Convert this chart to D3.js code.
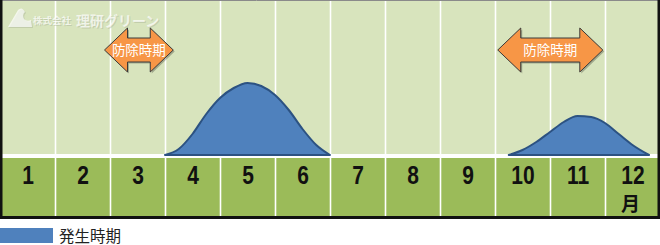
<!DOCTYPE html>
<html>
<head>
<meta charset="utf-8">
<script src="https://cdn.jsdelivr.net/npm/d3@7"></script>
<style>
  body { margin: 0; background: #fff; }
  svg { display: block; }
</style>
</head>
<body>
<div id="svg-wrapper"></div>
<script>
// month labels along the bottom band
const months = ["1", "2", "3", "4", "5", "6", "7", "8", "9", "10", "11", "12"];

// occurrence curves: [month position, level], month position 0 = start of Jan
const springBump = [
  [3.0, 0], [3.25, 6], [3.5, 21], [3.75, 41], [4.0, 57], [4.25, 67], [4.5, 72],
  [4.75, 69], [5.0, 60], [5.25, 45], [5.5, 26], [5.75, 10], [6.0, 0],
];
const autumnBump = [
  [9.25, 0], [9.5, 5], [9.75, 13], [10.0, 23], [10.25, 33], [10.5, 39],
  [10.75, 38], [11.0, 32], [11.25, 21], [11.5, 10], [11.8, 0],
];

// control periods (arrow tips, in month positions)
const controlPeriods = [[1.9, 3.15], [9.05, 10.96]];
const controlLabel = "防除時期";
const legendLabel = "発生時期";

const width = 660, height = 245;
const svg = d3.select("#svg-wrapper").append("svg")
  .attr("width", width).attr("height", height);

const x = d3.scaleLinear().domain([0, 12]).range([0, 660]);
const y = d3.scaleLinear().domain([0, 100]).range([155, 55]);

const bandTop = 157, bandBottom = 217;

// backgrounds
svg.append("rect").attr("x", 0).attr("y", 0).attr("width", 660).attr("height", 154)
  .attr("fill", "#d8e4bd");
svg.append("rect").attr("x", 0).attr("y", 154).attr("width", 660).attr("height", 4)
  .attr("fill", "#ffffff");
svg.append("rect").attr("x", 0).attr("y", bandTop + 1).attr("width", 660)
  .attr("height", bandBottom - bandTop - 1).attr("fill", "#9bbb59");

// column grid lines
const grid = d3.axisBottom(x).tickValues(d3.range(1, 12)).tickSize(bandBottom).tickFormat("");
svg.append("g").call(grid)
  .call((g) => g.select(".domain").remove())
  .selectAll("line").attr("stroke", "#ffffff").attr("stroke-width", 1.6);

// watermark logo (soft shadow + white)
[["#9aa58a", 0.35, 1], ["#ffffff", 0.7, 0]].forEach(([col, op, off]) => {
  const wm = svg.append("g").attr("opacity", op).attr("transform", `translate(${off},${off})`);
  wm.append("path")
    .attr("d", "M8,27 L18,10 Q22,6 25,12 Q22,14 24,19 Q27,22 31,20 L32,27 Z")
    .attr("fill", col);
  wm.append("text").attr("x", 33).attr("y", 23.5).text("株式会社")
    .attr("font-family", "Noto Sans CJK JP").attr("font-size", 9.5).attr("font-weight", "bold")
    .attr("fill", col);
  wm.append("text").attr("x", 76).attr("y", 25.5).text("理研グリーン")
    .attr("font-family", "Noto Sans CJK JP").attr("font-size", 14).attr("font-weight", "bold")
    .attr("fill", col);
});

// occurrence areas
const area = d3.area()
  .x((d) => x(d[0]))
  .y0(y(0))
  .y1((d) => y(d[1]))
  .curve(d3.curveMonotoneX);

svg.selectAll(".bump")
  .data([springBump, autumnBump])
  .enter()
  .append("path")
  .attr("class", "bump")
  .attr("d", area)
  .attr("fill", "#4f81bd")
  .attr("stroke", "#2c5282")
  .attr("stroke-width", 2)
  .attr("stroke-linejoin", "round");

// control period arrows
const arrowY = 50, headLen = 23, headHalf = 22, shaftHalf = 12;
function arrowPath(d) {
  const a = x(d[0]), b = x(d[1]);
  return `M${a},${arrowY} L${a + headLen},${arrowY - headHalf} L${a + headLen},${arrowY - shaftHalf}
    L${b - headLen},${arrowY - shaftHalf} L${b - headLen},${arrowY - headHalf} L${b},${arrowY}
    L${b - headLen},${arrowY + headHalf} L${b - headLen},${arrowY + shaftHalf}
    L${a + headLen},${arrowY + shaftHalf} L${a + headLen},${arrowY + headHalf} Z`;
}
const arrows = svg.selectAll(".arrow").data(controlPeriods).enter().append("g").attr("class", "arrow");
arrows.append("path")
  .attr("d", arrowPath)
  .attr("transform", "translate(1.5,1.5)")
  .attr("fill", "rgba(0,0,0,0.25)");
arrows.append("path")
  .attr("d", arrowPath)
  .attr("fill", "#f79646")
  .attr("stroke", "#3a3a3a")
  .attr("stroke-width", 1);
arrows.append("text")
  .attr("x", (d) => (x(d[0]) + x(d[1])) / 2)
  .attr("y", arrowY + 5)
  .attr("text-anchor", "middle")
  .attr("font-family", "Noto Sans CJK JP")
  .attr("font-size", 13.5)
  .attr("fill", "#ffffff")
  .text(controlLabel);

// month labels
const monthAxis = d3.axisBottom(x)
  .tickValues(d3.range(0.5, 12, 1))
  .tickSize(0)
  .tickPadding(0)
  .tickFormat((d, i) => months[i]);
svg.append("g")
  .attr("transform", "translate(0,166)")
  .call(monthAxis)
  .call((g) => g.select(".domain").remove())
  .selectAll("text")
  .attr("dy", "0.71em")
  .attr("transform", "scale(0.84,1)")
  .attr("font-family", "Liberation Sans, Arial, sans-serif")
  .attr("font-weight", "bold")
  .attr("font-size", 25)
  .attr("fill", "#111");
svg.append("text")
  .attr("x", x(11.5) - 2)
  .attr("y", 211)
  .attr("text-anchor", "middle")
  .attr("font-family", "Noto Sans CJK JP")
  .attr("font-weight", "bold")
  .attr("font-size", 19)
  .attr("fill", "#111")
  .text("月");

// frame
svg.append("line").attr("x1", 0).attr("x2", 660).attr("y1", 0.5).attr("y2", 0.5)
  .attr("stroke", "#8a8a8a").attr("stroke-width", 1);
svg.append("rect").attr("x", 0).attr("y", 0).attr("width", 2.5).attr("height", 219).attr("fill", "#111");
svg.append("rect").attr("x", 657.5).attr("y", 0).attr("width", 2.5).attr("height", 219).attr("fill", "#111");
svg.append("rect").attr("x", 0).attr("y", 216).attr("width", 660).attr("height", 3).attr("fill", "#111");

// legend
svg.append("rect").attr("x", 0).attr("y", 228).attr("width", 53).attr("height", 15).attr("fill", "#4f81bd");
svg.append("text").attr("x", 59).attr("y", 242)
  .attr("font-family", "Noto Sans CJK JP").attr("font-size", 15.5).attr("fill", "#222")
  .text(legendLabel);
</script>
</body>
</html>
